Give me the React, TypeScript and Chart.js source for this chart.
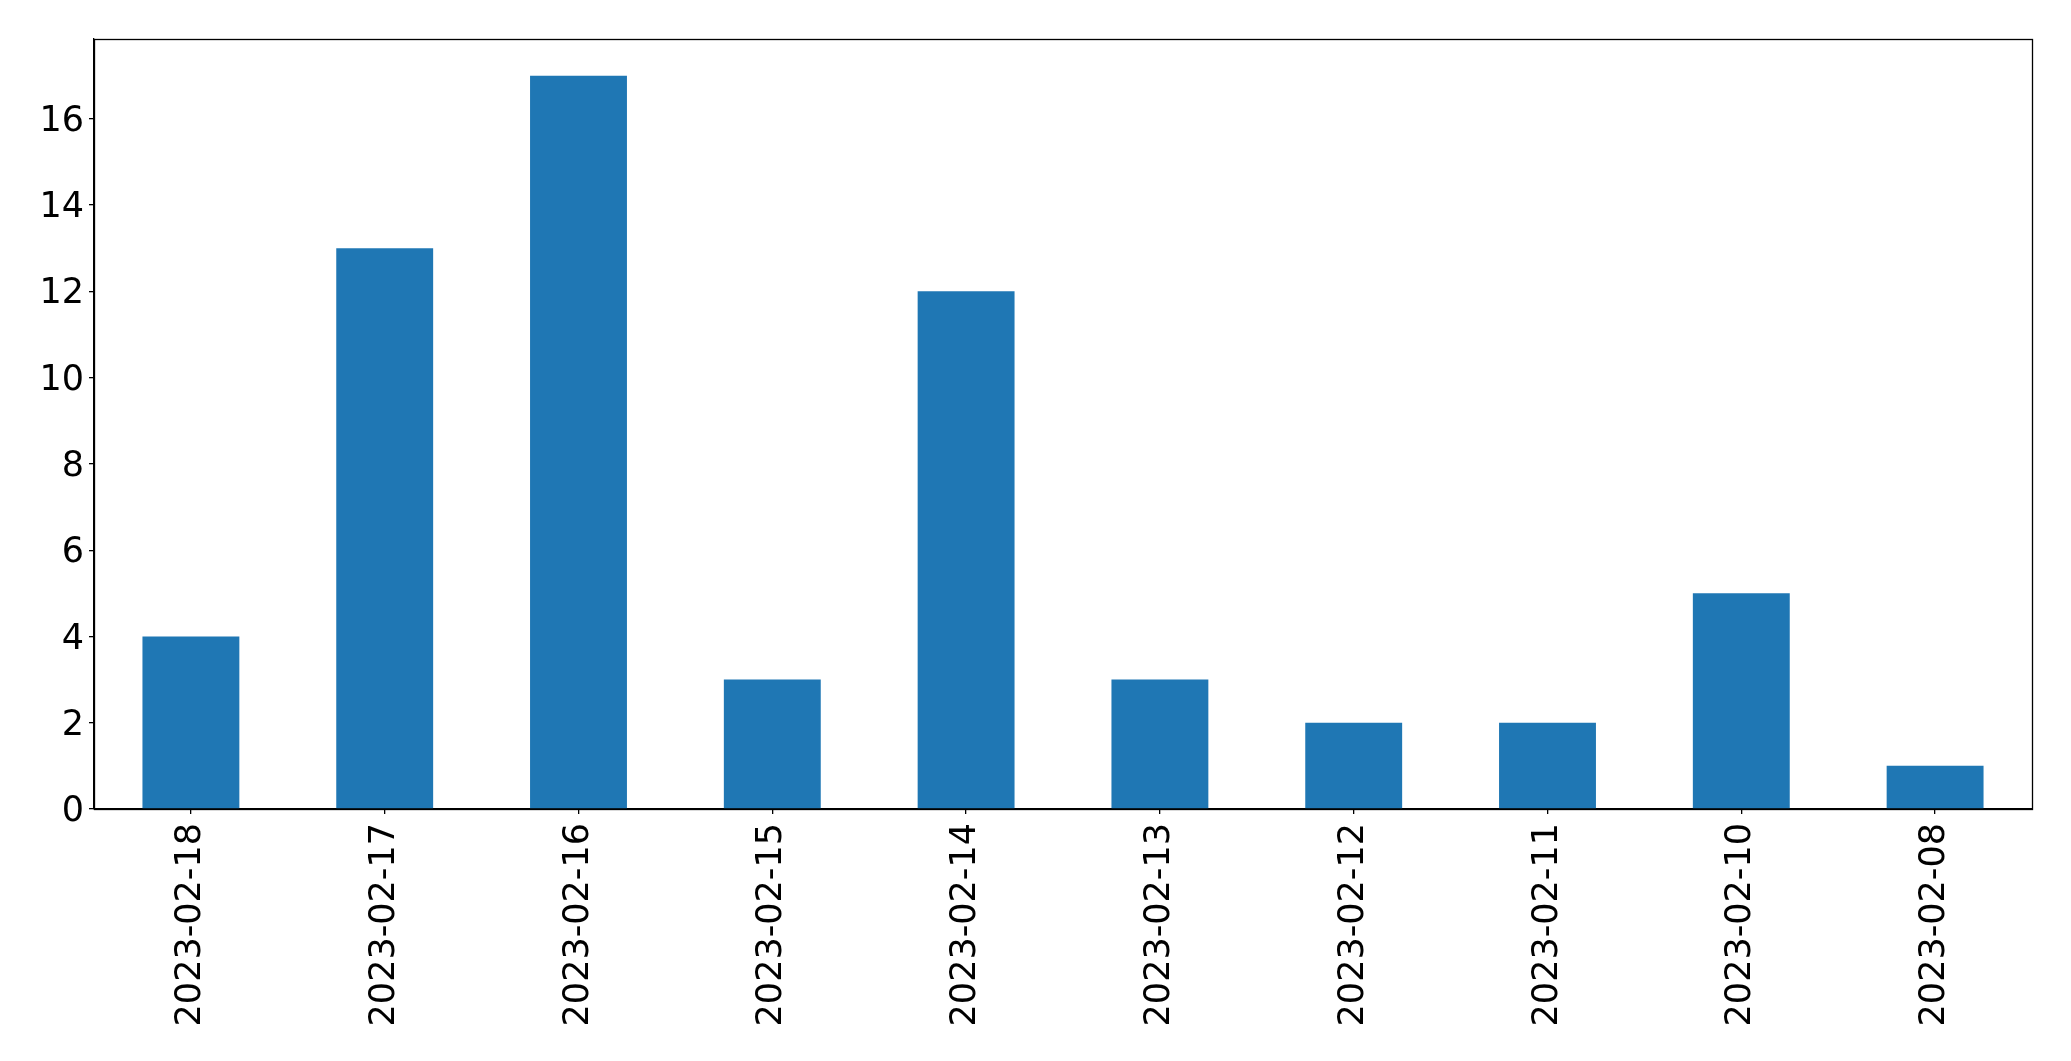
import React, { useEffect, useRef } from "react";
import { Chart, registerables } from "chart.js";

Chart.register(...registerables);

const categories = [
  "2023-02-18",
  "2023-02-17",
  "2023-02-16",
  "2023-02-15",
  "2023-02-14",
  "2023-02-13",
  "2023-02-12",
  "2023-02-11",
  "2023-02-10",
  "2023-02-08",
];
const counts = [4, 13, 17, 3, 12, 3, 2, 2, 5, 1];
const yTicks = [0, 2, 4, 6, 8, 10, 12, 14, 16];
const yMax = 17.85;

const W = 2071;
const H = 1061;
const FONT = "'DejaVu Sans', sans-serif";

const framePlugin = {
  id: "frame",
  afterDraw(chart: any) {
    const { ctx, chartArea } = chart;
    ctx.save();
    ctx.strokeStyle = "#000";
    ctx.lineWidth = 1.3;
    ctx.strokeRect(
      Math.round(chartArea.left) + 0.5,
      Math.round(chartArea.top) + 0.5,
      Math.round(chartArea.right - chartArea.left),
      Math.round(chartArea.bottom - chartArea.top)
    );
    ctx.restore();
  },
};

export default function App() {
  const ref = useRef<HTMLCanvasElement | null>(null);

  useEffect(() => {
    document.body.style.margin = "0";
    const canvas = ref.current!;
    const chart = new Chart(canvas, {
      type: "bar",
      data: {
        labels: categories,
        datasets: [
          {
            data: counts,
            backgroundColor: "#1f77b4",
            barPercentage: 0.5,
            categoryPercentage: 1,
          },
        ],
      },
      options: {
        animation: false,
        responsive: false,
        devicePixelRatio: 1,
        layout: { padding: { left: 0, top: 39, right: 39, bottom: 0 } },
        plugins: {
          legend: { display: false },
          tooltip: { enabled: false },
          title: { display: false },
        },
        scales: {
          x: {
            offset: true,
            grid: {
              display: true,
              offset: false,
              drawOnChartArea: false,
              drawTicks: true,
              tickLength: 5,
              color: "#000",
              lineWidth: 1.3,
            },
            border: { display: true, color: "#000", width: 1.3 },
            ticks: {
              color: "#000",
              font: { family: FONT, size: 35 },
              minRotation: 90,
              maxRotation: 90,
              padding: 9,
              autoSkip: false,
            },
            afterFit(scale: any) {
              scale.height = H - 809;
            },
          },
          y: {
            min: 0,
            max: yMax,
            grid: {
              display: true,
              drawOnChartArea: false,
              drawTicks: true,
              tickLength: 5,
              color: "#000",
              lineWidth: 1.3,
            },
            border: { display: true, color: "#000", width: 1.3 },
            ticks: {
              color: "#000",
              font: { family: FONT, size: 35 },
              padding: 5,
              labelOffset: 3,
            },
            afterBuildTicks(scale: any) {
              scale.ticks = yTicks.map((v) => ({ value: v }));
            },
            afterFit(scale: any) {
              scale.width = 94;
            },
          },
        },
      },
      plugins: [framePlugin],
    });
    return () => chart.destroy();
  }, []);

  return (
    <div style={{ position: "absolute", left: 0, top: 0, width: W, height: H, background: "#fff" }}>
      <canvas ref={ref} width={W} height={H} style={{ width: W, height: H, display: "block" }} />
    </div>
  );
}
